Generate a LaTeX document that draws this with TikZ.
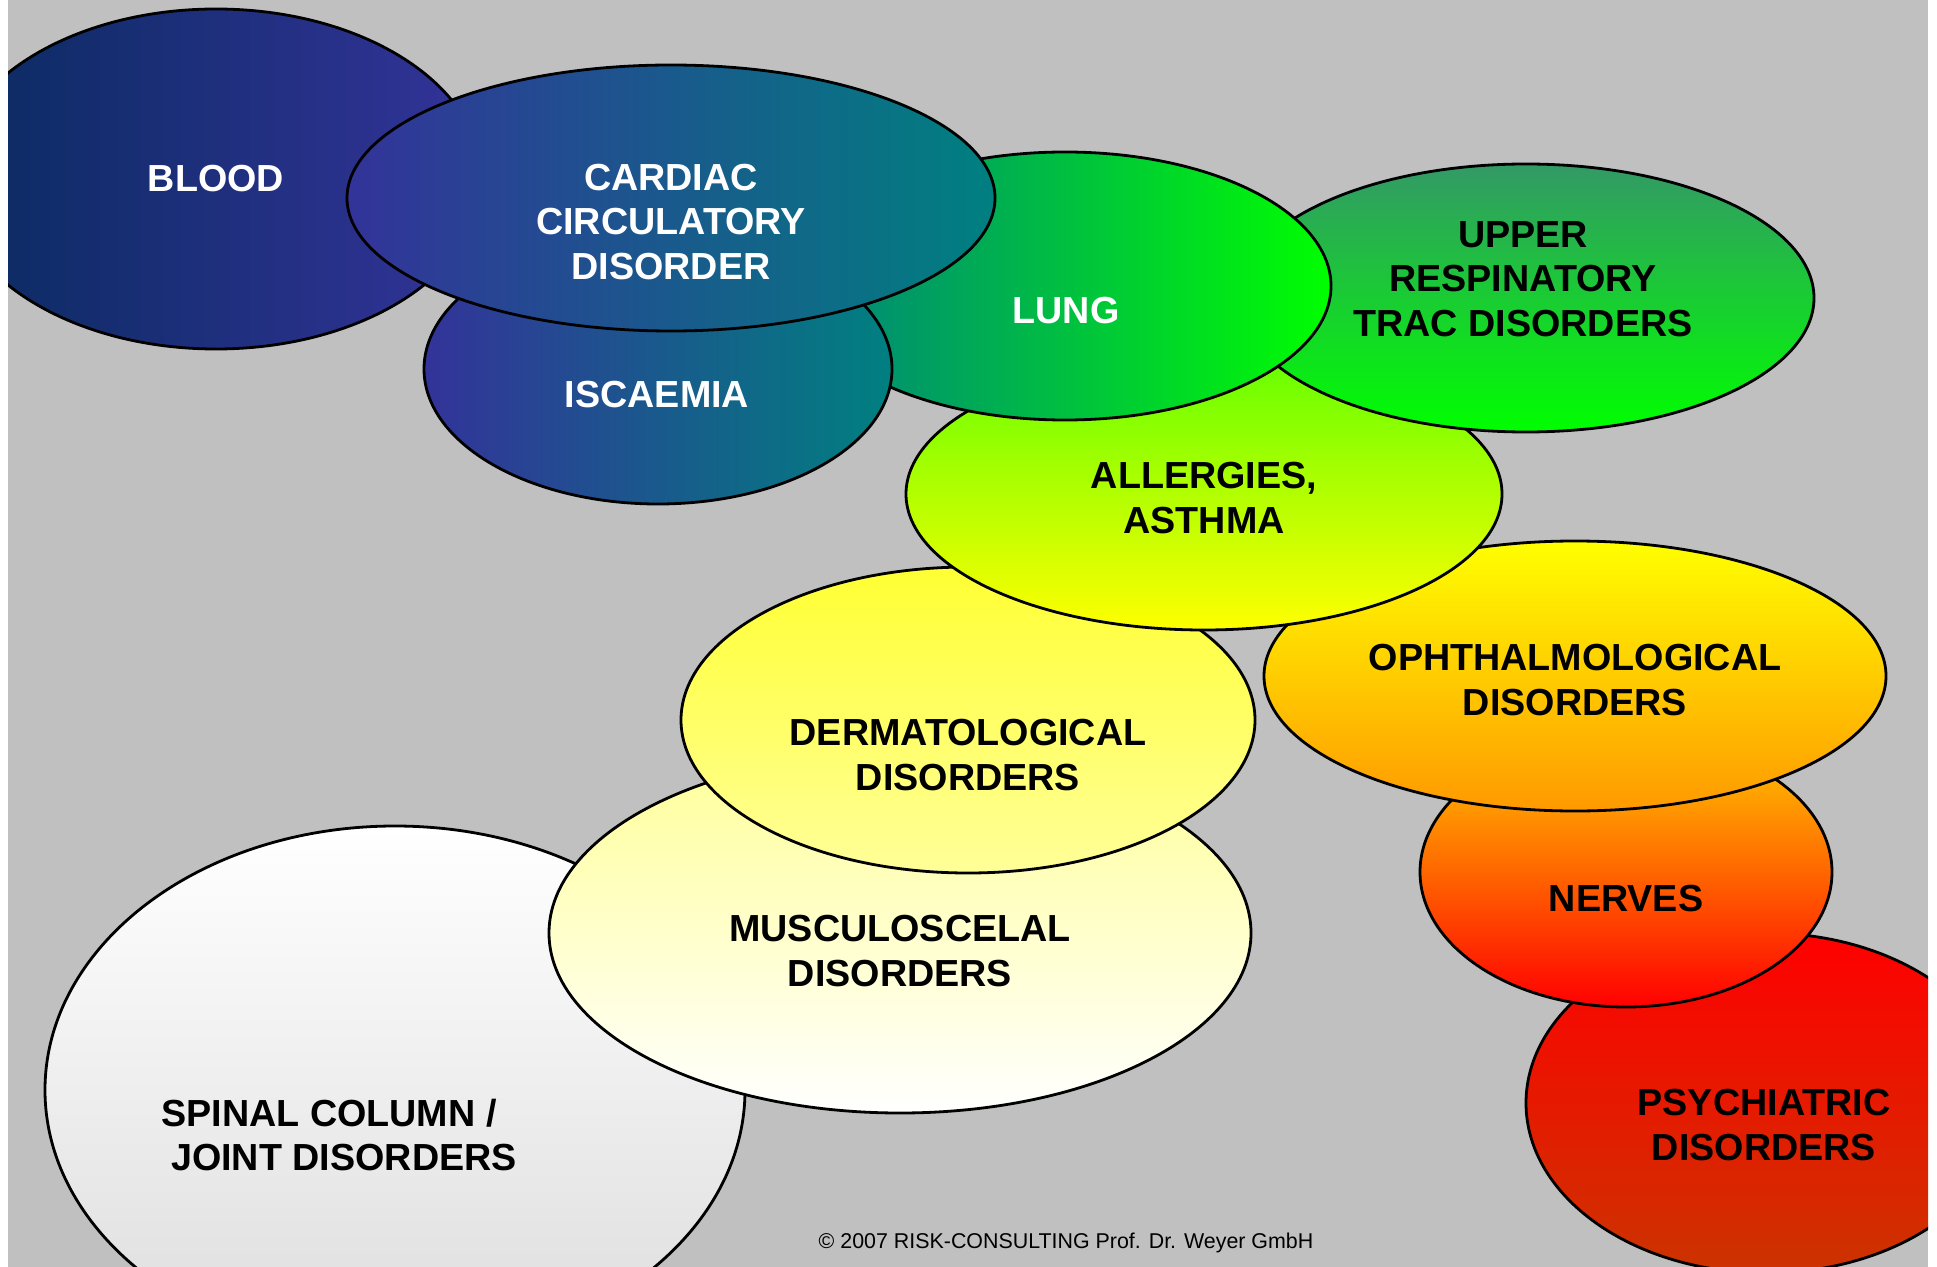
\documentclass[tikz,border=0pt]{standalone}
\usepackage{fontspec}
\setmainfont{Liberation Sans}
\usetikzlibrary{shapes.geometric}
\definecolor{greybg}{HTML}{C0C0C0}
\definecolor{navyc}{HTML}{0A2B60}
\definecolor{indigoc}{HTML}{333399}
\definecolor{tealc}{HTML}{008080}
\definecolor{limec}{HTML}{00FF00}
\definecolor{seagrn}{HTML}{339966}
\definecolor{yelgrn}{HTML}{66FF00}
\definecolor{yelc}{HTML}{FFFF00}
\definecolor{lemon}{HTML}{FFFF33}
\definecolor{paleyel}{HTML}{FFFF99}
\definecolor{orangec}{HTML}{FF9900}
\definecolor{ambc}{HTML}{FFCC00}
\definecolor{redc}{HTML}{FF0000}
\definecolor{rustc}{HTML}{CC3300}
\definecolor{spinbot}{HTML}{DDDDDD}
\tikzset{
  blob/.style 2 args={ellipse,draw=black,line width=1.4pt,inner sep=0pt,
    minimum width=#1pt,minimum height=#2pt},
  lbl/.style={font=\bfseries\fontsize{18.85}{22.2}\selectfont,align=center,inner sep=0pt},
  lblw/.style={lbl,text=white},
}
\begin{document}
\begin{tikzpicture}[x=0.5pt,y=-0.5pt] % disorder groups, back to front
  \useasboundingbox (0,0) rectangle (1937,1267);
  \fill[white] (0,0) rectangle (1937,1267);
  \begin{scope}
    \clip (8,0) rectangle (1928,1267);
    \fill[greybg] (8,0) rectangle (1928,1267);
    % lower chain
    \node[blob={350}{264},top color=white,bottom color=spinbot] (spinal) at (395,1090) {};
    \node[blob={351}{180},top color=paleyel,bottom color=white] (musc) at (900,933) {};
    \node[blob={287}{153},top color=lemon,bottom color=paleyel] (derm) at (968,720) {};
    % right chain
    \node[blob={240}{170},top color=redc,bottom color=rustc] (psych) at (1766,1103) {};
    \node[blob={206}{135},top color=ambc,bottom color=redc] (nerves) at (1626,872) {};
    \node[blob={311}{135},top color=yelc,bottom color=orangec] (ophth) at (1575,676) {};
    \node[blob={298}{136},top color=yelgrn,bottom color=yelc] (allerg) at (1204,494) {};
    \node[blob={288}{134},top color=seagrn,bottom color=limec] (upper) at (1526,298) {};
    \node[blob={266}{134},left color=tealc,right color=limec] (lung) at (1065,286) {};
    % upper left
    \node[blob={266}{170},left color=navyc,right color=indigoc] (blood) at (216,179) {};
    \node[blob={234}{135},left color=indigoc,right color=tealc] (isch) at (658,369) {};
    \node[blob={324}{133},left color=indigoc,right color=tealc] (cardiac) at (671,198) {};
    % labels
    \node[lblw] (blood-t) at (216,179) {BLOOD};
    \node[lblw] (cardiac-t) at (671,222) {CARDIAC\\CIRCULATORY\\DISORDER};
    \node[lblw] (isch-t) at (657,395) {ISCAEMIA};
    \node[lblw] (lung-t) at (1066,311) {LUNG};
    \node[lbl] (upper-t) at (1523,279) {UPPER\\RESPINATORY\\TRAC DISORDERS};
    \node[lbl] (allerg-t) at (1204,498) {ALLERGIES,\\ASTHMA};
    \node[lbl] (ophth-t) at (1575,680) {OPHTHALMOLOGICAL\\DISORDERS};
    \node[lbl] (nerves-t) at (1626,899) {NERVES};
    \node[lbl] (psych-t) at (1764,1125) {PSYCHIATRIC\\DISORDERS};
    \node[lbl] (derm-t) at (968,755) {DERMATOLOGICAL\\DISORDERS};
    \node[lbl] (musc-t) at (900,951) {MUSCULOSCELAL\\DISORDERS};
    \node[lbl] (spinal-t) at (344,1135) {SPINAL COLUMN /\rule{15pt}{0pt}\\JOINT DISORDERS};
    \node[font=\fontsize{10.7}{12}\selectfont,inner sep=0pt] (copy) at (1066,1243)
      {\textcopyright\ 2007 RISK-CONSULTING Prof. Dr. Weyer GmbH};
  \end{scope}
\end{tikzpicture}
\end{document}
